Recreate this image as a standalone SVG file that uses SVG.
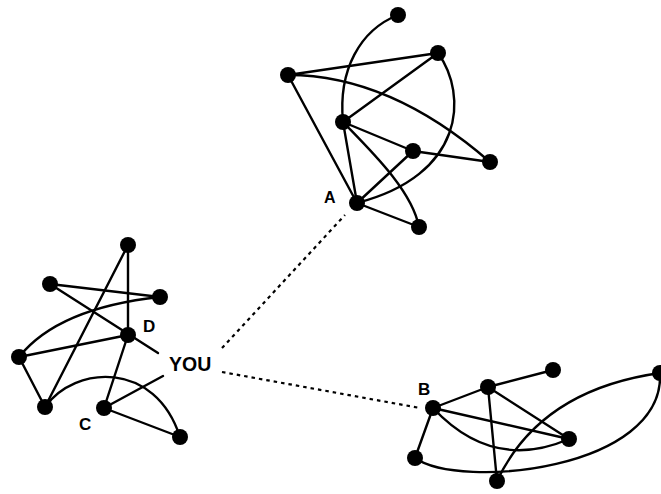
<svg xmlns="http://www.w3.org/2000/svg" width="661" height="494" viewBox="0 0 661 494">
<style>
.e{fill:none;stroke:#000;stroke-width:2.4;stroke-linecap:round}
.w{fill:none;stroke:#000;stroke-width:2.2;stroke-dasharray:3.5 4}
.n{fill:#000}
.t{font-family:"Liberation Sans",Arial,Helvetica,sans-serif;font-weight:bold;fill:#000}
</style>
<rect width="661" height="494" fill="#fff"/>
<g id="connectors">
<!-- cluster A -->
<path class="e" d="M398,15 C360,30 338,70 343,122"/>
<path class="e" d="M288,75 L438,53"/>
<path class="e" d="M288,75 Q390,75 490,162"/>
<path class="e" d="M288,75 L357,203"/>
<path class="e" d="M438,53 L343,122"/>
<path class="e" d="M438,53 C468,95 465,175 357,203"/>
<path class="e" d="M343,122 L413,151"/>
<path class="e" d="M343,122 L357,203"/>
<path class="e" d="M343,122 C370,150 412,190 419,227"/>
<path class="e" d="M413,151 L490,162"/>
<path class="e" d="M413,151 L357,203"/>
<path class="e" d="M357,203 L419,227"/>
<!-- left cluster -->
<path class="e" d="M128,245 L128,335"/>
<path class="e" d="M128,245 L45,407"/>
<path class="e" d="M50,284 L160,297"/>
<path class="e" d="M50,284 L158,353"/>
<path class="e" d="M160,297 Q58,308 19,357"/>
<path class="e" d="M19,357 L128,335"/>
<path class="e" d="M19,357 L45,407"/>
<path class="e" d="M45,407 C75,365 155,360 180,437"/>
<path class="e" d="M128,335 L104,408"/>
<path class="e" d="M104,408 L163,376"/>
<path class="e" d="M104,408 L180,437"/>
<!-- cluster B -->
<path class="e" d="M433,408 L488,387"/>
<path class="e" d="M488,387 L553,370"/>
<path class="e" d="M433,408 L569,439"/>
<path class="e" d="M488,387 L569,439"/>
<path class="e" d="M488,387 L497,481"/>
<path class="e" d="M433,408 L415,458"/>
<path class="e" d="M433,408 Q493,472 569,439"/>
<path class="e" d="M415,458 C460,490 665,470 660,373"/>
<path class="e" d="M497,481 Q540,390 660,373"/>
<!-- weak ties -->
<path class="w" d="M222,348 L345,215"/>
<path class="w" d="M222,372 L420,408"/>
</g>
<g id="clusterA">
<circle id="a1" class="n" cx="398" cy="15" r="8"/>
<circle id="a2" class="n" cx="438" cy="53" r="8"/>
<circle id="a3" class="n" cx="288" cy="75" r="8"/>
<circle id="a4" class="n" cx="343" cy="122" r="8"/>
<circle id="a5" class="n" cx="413" cy="151" r="8"/>
<circle id="a6" class="n" cx="490" cy="162" r="8"/>
<circle id="nodeA" class="n" cx="357" cy="203" r="8"/>
<circle id="a8" class="n" cx="419" cy="227" r="8"/>
<text class="t" x="324" y="203" font-size="16">A</text>
</g>
<g id="clusterYou">
<circle id="y1" class="n" cx="128" cy="245" r="8"/>
<circle id="y2" class="n" cx="50" cy="284" r="8"/>
<circle id="y3" class="n" cx="160" cy="297" r="8"/>
<circle id="nodeD" class="n" cx="128" cy="335" r="8"/>
<circle id="y5" class="n" cx="19" cy="357" r="8"/>
<circle id="y6" class="n" cx="45" cy="407" r="8"/>
<circle id="nodeC" class="n" cx="104" cy="408" r="8"/>
<circle id="y8" class="n" cx="180" cy="437" r="8"/>
<text class="t" x="143" y="332" font-size="17">D</text>
<text class="t" x="79" y="430" font-size="17">C</text>
</g>
<g id="you">
<text class="t" x="169" y="371" font-size="19.5">YOU</text>
</g>
<g id="clusterB">
<circle id="nodeB" class="n" cx="433" cy="408" r="8"/>
<circle id="b2" class="n" cx="488" cy="387" r="8"/>
<circle id="b3" class="n" cx="553" cy="370" r="8"/>
<circle id="b4" class="n" cx="660" cy="373" r="8"/>
<circle id="b5" class="n" cx="569" cy="439" r="8"/>
<circle id="b6" class="n" cx="415" cy="458" r="8"/>
<circle id="b7" class="n" cx="497" cy="481" r="8"/>
<text class="t" x="418" y="395" font-size="17">B</text>
</g>
</svg>
